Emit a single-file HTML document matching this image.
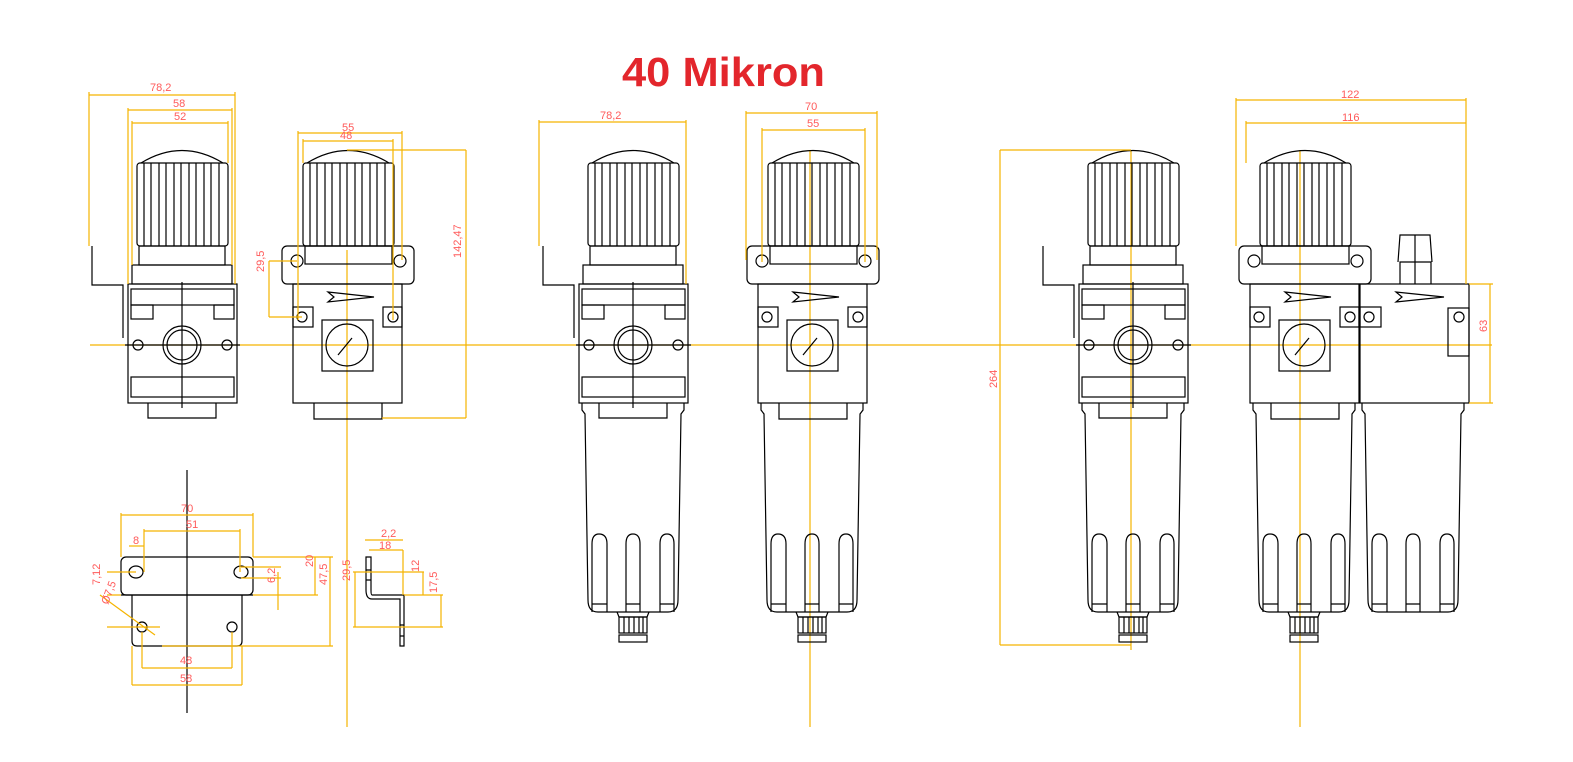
<!DOCTYPE html>
<html><head><meta charset="utf-8"><style>
html,body{margin:0;padding:0;background:#fff;}
svg{display:block}
.k{fill:none;stroke:#000;stroke-width:1.2}
.y{stroke:#f5b400;stroke-width:1.2;fill:none}
.t{fill:#ff5a5a;font-family:"Liberation Sans",sans-serif;font-size:11px}
</style></head><body>
<svg width="1573" height="762" viewBox="0 0 1573 762" xmlns="http://www.w3.org/2000/svg">
<defs>
<g id="knob" class="k">
<path d="M4,0 Q45,-25 86,0"/>
<rect x="0" y="0" width="91" height="83" rx="3"/>
<path d="M7,0V83M14,0V83M22,0V83M29,0V83M37,0V83M44,0V83M52,0V83M59,0V83M67,0V83M74,0V83M82,0V83"/>
</g>
<g id="side">
<use href="#knob" x="137" y="163"/>
<g class="k">
<rect x="139" y="246" width="86" height="19"/>
<rect x="132" y="265" width="100" height="19"/>
<rect x="128" y="284" width="109" height="119"/>
<rect x="131" y="289" width="103" height="16"/>
<rect x="131" y="305" width="22" height="14"/>
<rect x="214" y="305" width="20" height="14"/>
<rect x="131" y="377" width="103" height="20"/>
<circle cx="182" cy="345" r="19"/><circle cx="182" cy="345" r="15"/>
<circle cx="138" cy="345" r="5"/><circle cx="227" cy="345" r="5"/>
<path d="M148,403V418H216V403"/>
<path d="M92,246V285H123V338"/>
<path d="M182,282V408M125,345H240"/>
</g></g>
<g id="front" class="k">
<use href="#knob" x="303" y="163"/>
<rect x="282" y="246" width="132" height="38" rx="5"/>
<rect x="305" y="246" width="87" height="18"/>
<circle cx="297" cy="261" r="6"/><circle cx="400" cy="261" r="6"/>
<rect x="293" y="284" width="109" height="119"/>
<path d="M328,292L374,297L328,302L334,297Z"/>
<rect x="293" y="307" width="20" height="20"/><circle cx="302" cy="317" r="5"/>
<rect x="383" y="307" width="19" height="20"/><circle cx="393" cy="317" r="5"/>
<rect x="322" y="320" width="51" height="51"/>
<circle cx="347" cy="345" r="21"/>
<path d="M338,355L352,338"/>
<path d="M314,403V419H382V403"/>
</g>
<g id="bowl" class="k">
<path d="M-51,0V7L-48,11L-45,197Q-45,209-35,209H35Q45,209,45,197L48,11L51,7V0"/>
<path d="M-41,209V141Q-41,131-34,131Q-26,131-26,141V209M-7,209V141Q-7,131,0,131Q7,131,7,141V209M27,209V141Q27,131,34,131Q41,131,41,141V209"/>
<path d="M-41,201H-26M-7,201H7M27,201H41"/>
</g>
<g id="drain" class="k">
<path d="M-16,0L-14,5H14L16,0"/>
<rect x="-14" y="5" width="28" height="16"/>
<path d="M-9,5V21M-4,5V21M1,5V21M6,5V21M10,5V21"/>
<rect x="-14" y="23" width="28" height="7"/>
</g>
</defs>

<text x="622" y="86" font-family="'Liberation Sans',sans-serif" font-weight="bold" font-size="41" fill="#e3262c" textLength="203" lengthAdjust="spacingAndGlyphs">40 Mikron</text>

<g class="y">
<path d="M90,345H1492"/>
<path d="M347,250V727M810,150V727M1300,150V727M1131,150V650"/>
</g>

<use href="#side"/>
<use href="#front"/>
<use href="#side" x="451"/>
<use href="#front" x="465"/>
<use href="#bowl" x="633" y="403"/><use href="#drain" x="633" y="612"/>
<use href="#bowl" x="812" y="403"/><use href="#drain" x="812" y="612"/>
<use href="#side" x="951"/>
<use href="#front" x="957"/>
<use href="#bowl" x="1133" y="403"/><use href="#drain" x="1133" y="612"/>
<use href="#bowl" x="1304" y="403"/><use href="#drain" x="1304" y="612"/>
<use href="#bowl" x="1413" y="403"/>
<g class="k">
<rect x="1360" y="284" width="109" height="119"/>
<path d="M1396,292L1444,297L1396,302L1402,297Z"/>
<rect x="1360" y="307" width="21" height="20"/><circle cx="1369" cy="317" r="5"/>
<rect x="1448" y="308" width="21" height="48"/><circle cx="1459" cy="317" r="5"/>
<path d="M1400,284V262H1431V284M1398,262L1400,235H1430L1432,262M1415,235V284"/>
</g>

<g class="y">
<path d="M89,95H235M89,92V246M235,92V284"/>
<path d="M128,110H232M128,108V284M232,108V265"/>
<path d="M132,123H228M132,121V265M228,121V163"/>
<path d="M298,133H402M298,131V320M402,131V260"/>
<path d="M303,141H393M303,139V163M393,139V320"/>
<path d="M347,150H466M382,418H466M466,150V418"/>
<path d="M269,261H297M269,317H302M269,261V317"/>
<path d="M539,122H686M539,120V246M686,120V284"/>
<path d="M746,113H877M746,111V260M877,111V260"/>
<path d="M762,130H865M762,128V262M865,128V262"/>
<path d="M1236,100H1466M1236,98V246M1466,98V284"/>
<path d="M1246,123H1466M1246,121V163"/>
<path d="M1000,150H1131M1000,645H1131M1000,150V645"/>
<path d="M1469,284H1493M1469,403H1493M1490,284V403"/>
</g>
<g class="t">
<text x="150" y="91">78,2</text><text x="173" y="107">58</text><text x="174" y="120">52</text>
<text x="342" y="131">55</text><text x="340" y="139">48</text>
<text x="600" y="119">78,2</text><text x="805" y="110">70</text><text x="807" y="127">55</text>
<text x="1341" y="98">122</text><text x="1342" y="121">116</text>
<text transform="translate(461,258) rotate(-90)">142,47</text>
<text transform="translate(264,272) rotate(-90)">29,5</text>
<text transform="translate(997,388) rotate(-90)">264</text>
<text transform="translate(1487,332) rotate(-90)">63</text>
</g>

<g class="k">
<path d="M187,470V713"/>
<rect x="121" y="557" width="132" height="38" rx="5"/>
<path d="M132,595V641Q132,646,137,646H237Q242,646,242,641V595"/>
<path d="M121,595H253"/>
<ellipse cx="136" cy="572" rx="7" ry="6"/><ellipse cx="241" cy="572" rx="7" ry="6"/>
<circle cx="142" cy="627" r="5"/><circle cx="232" cy="627" r="5"/>
<path d="M366,557V590Q366,599,372,599H400V646H404V595H372Q371,595,371,590V557Z"/>
<path d="M366,570H371M366,580H371M400,625H404M400,636H404"/>
</g>
<g class="y">
<path d="M121,515H253M121,513V557M253,513V557"/>
<path d="M144,531H240M144,529V572M240,529V572"/>
<path d="M129,546H144"/>
<path d="M142,668H232M142,632V668M232,632V668"/>
<path d="M132,685H242M132,646V685M242,646V685"/>
<path d="M253,557H333M253,595H318M162,646H333M278,572V610M241,567H281M241,578H281M315,557V595M330,557V646"/>
<path d="M107,572H136M107,595H121M107,627H160M100,595L155,635"/>
<path d="M365,540H403M369,550H403M403,550V595M353,572H424M353,627H443M355,572V627M423,572V595M441,595V627M404,595H443"/>
</g>
<g class="t">
<text x="181" y="512">70</text><text x="186" y="528">51</text><text x="133" y="544">8</text>
<text x="180" y="664">48</text><text x="180" y="682">58</text>
<text x="381" y="537">2,2</text><text x="379" y="549">18</text>
<text transform="translate(275,583) rotate(-90)">6,2</text>
<text transform="translate(313,567) rotate(-90)">20</text>
<text transform="translate(327,585) rotate(-90)">47,5</text>
<text transform="translate(350,581) rotate(-90)">29,5</text>
<text transform="translate(419,572) rotate(-90)">12</text>
<text transform="translate(437,593) rotate(-90)">17,5</text>
<text transform="translate(100,585) rotate(-90)">7,12</text>
<text transform="translate(108,605) rotate(-70)">Ø7,5</text>
</g>
</svg>
</body></html>
